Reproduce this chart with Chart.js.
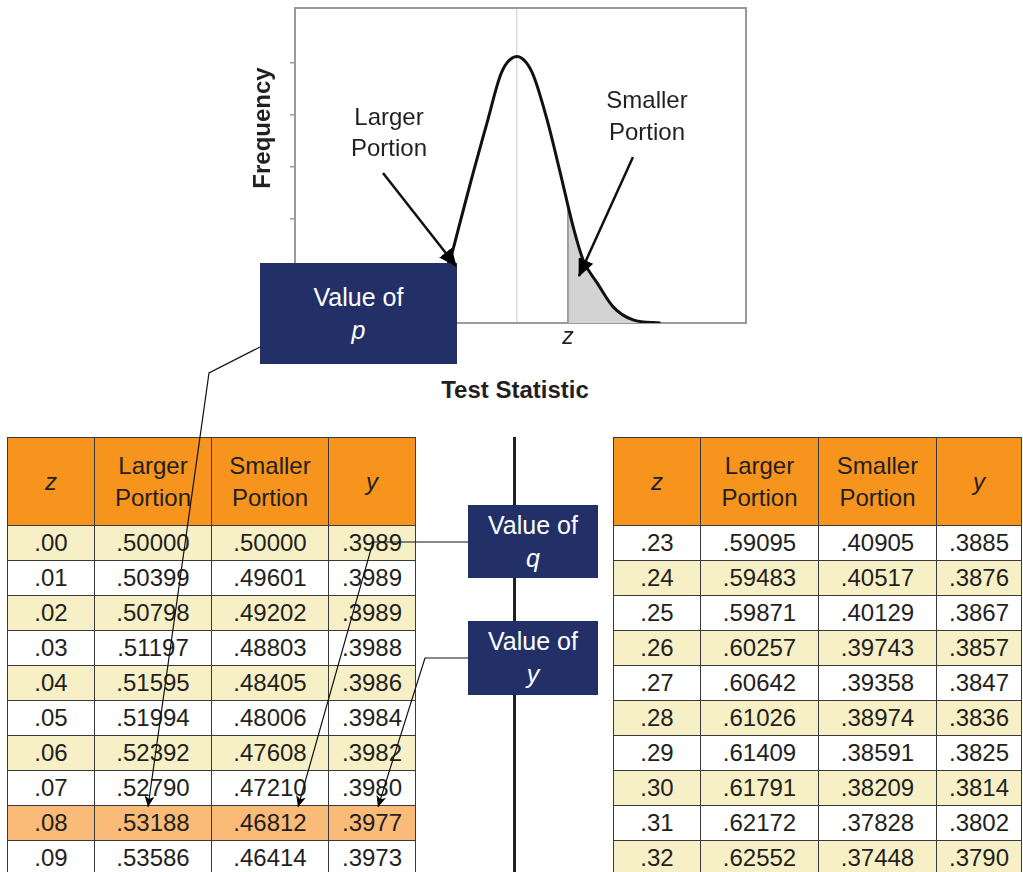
<!DOCTYPE html>
<html>
<head>
<meta charset="utf-8">
<script src="https://cdn.jsdelivr.net/npm/chart.js@4.4.1/dist/chart.umd.min.js"></script>
<style>
  body{margin:0;width:1023px;height:872px;position:relative;overflow:hidden;background:#fff;
       font-family:"Liberation Sans",Arial,Helvetica,sans-serif;color:#231f20}
  #chartWrap{position:absolute;left:240px;top:0;width:540px;height:360px}
  .lbl{position:absolute;font-size:24px;line-height:31px;text-align:center;white-space:nowrap}
  .bold{font-weight:bold}
  .box{position:absolute;background:#233068;color:#fff;font-size:25px;line-height:33px;text-align:center;
       display:flex;flex-direction:column;justify-content:center;z-index:4}
  .box i, th i{font-style:italic}
  table{position:absolute;border-collapse:collapse;table-layout:fixed;font-size:24px;top:437px}
  td,th{border:1.5px solid #3a3a3a;text-align:center;padding:0;overflow:hidden;white-space:nowrap}
  th{background:#f7941e;font-weight:normal;height:87px;line-height:32px}
  tr.r td{height:34px;line-height:34px}
  tr.yel td{background:#f7f0c6}
  tr.hi td{background:#fbbb78}
  #divider{position:absolute;left:513px;top:437px;width:3px;height:440px;background:#231f20}
  #ann{position:absolute;left:0;top:0;z-index:5;pointer-events:none}
</style>
</head>
<body>
<div id="chartWrap"><canvas id="normalChart" width="540" height="360"></canvas></div>

<div class="lbl bold" style="left:162px;top:113px;width:200px;height:30px;line-height:30px;transform:rotate(-90deg)">Frequency</div>
<div class="lbl" style="left:314px;top:101px;width:150px">Larger<br>Portion</div>
<div class="lbl" style="left:572px;top:84px;width:150px;line-height:32px">Smaller<br>Portion</div>
<div class="lbl bold" style="left:395px;top:374px;width:240px">Test Statistic</div>

<div class="box" style="left:260px;top:263px;width:197px;height:101px"><span>Value of</span><i>p</i></div>
<div class="box" style="left:468px;top:505px;width:130px;height:73px"><span>Value of</span><i>q</i></div>
<div class="box" style="left:468px;top:621px;width:130px;height:74px"><span>Value of</span><i>y</i></div>

<div id="divider"></div>
<table id="leftTable" style="left:7px;width:408px"></table>
<table id="rightTable" style="left:613px;width:408px"></table>

<svg id="ann" width="1023" height="872">
  <defs>
    <marker id="big" markerUnits="userSpaceOnUse" markerWidth="18" markerHeight="16" refX="17" refY="8" orient="auto">
      <path d="M0,0 L18,8 L0,16 z" fill="#000"/>
    </marker>
    <marker id="small" markerUnits="userSpaceOnUse" markerWidth="11" markerHeight="10" refX="11" refY="5" orient="auto">
      <path d="M0,0 L11,5 L0,10 L3,5 z" fill="#000"/>
    </marker>
  </defs>
  <line x1="383" y1="173" x2="456" y2="266" stroke="#111" stroke-width="2.5" marker-end="url(#big)"/>
  <line x1="633" y1="157" x2="579" y2="276" stroke="#111" stroke-width="2.5" marker-end="url(#big)"/>
  <polyline points="260,347 209,373 148,807" fill="none" stroke="#111" stroke-width="1.2" marker-end="url(#small)"/>
  <polyline points="468,542 373,542 298,807" fill="none" stroke="#111" stroke-width="1.2" marker-end="url(#small)"/>
  <polyline points="468,658 425,658 378,807" fill="none" stroke="#111" stroke-width="1.2" marker-end="url(#small)"/>
</svg>

<script>
  // curve (x: 1 unit = 40px from centre, y: tick units)
  const curveX = [-3.58, -2.9, -2.4, -2.0, -1.68, -1.43, -1.1, -0.75, -0.43, -0.25, 0, 0.23, 0.42, 0.75, 1.08, 1.4, 1.65, 2.0, 2.4, 2.9, 3.58];
  const curveY = [0, 0.06, 0.31, 0.77, 1.21, 1.92, 2.88, 3.85, 4.73, 5.0, 5.12, 5.0, 4.73, 3.9, 2.88, 1.85, 1.21, 0.77, 0.31, 0.06, 0];
  const zValue = 1.27;
  const shadeX = [1.27, 1.4, 1.65, 2.0, 2.4, 2.9, 3.58];
  const shadeY = [2.2, 1.85, 1.21, 0.77, 0.31, 0.06, 0];
  const yTicks = [1, 2, 3, 4, 5];

  const headers = ["<i>z</i>", "Larger<br>Portion", "Smaller<br>Portion", "<i>y</i>"];
  const leftZ = [".00", ".01", ".02", ".03", ".04", ".05", ".06", ".07", ".08", ".09"];
  const leftLarger = [".50000", ".50399", ".50798", ".51197", ".51595", ".51994", ".52392", ".52790", ".53188", ".53586"];
  const leftSmaller = [".50000", ".49601", ".49202", ".48803", ".48405", ".48006", ".47608", ".47210", ".46812", ".46414"];
  const leftY = [".3989", ".3989", ".3989", ".3988", ".3986", ".3984", ".3982", ".3980", ".3977", ".3973"];
  const rightZ = [".23", ".24", ".25", ".26", ".27", ".28", ".29", ".30", ".31", ".32"];
  const rightLarger = [".59095", ".59483", ".59871", ".60257", ".60642", ".61026", ".61409", ".61791", ".62172", ".62552"];
  const rightSmaller = [".40905", ".40517", ".40129", ".39743", ".39358", ".38974", ".38591", ".38209", ".37828", ".37448"];
  const rightY = [".3885", ".3876", ".3867", ".3857", ".3847", ".3836", ".3825", ".3814", ".3802", ".3790"];

  const FONT = '"Liberation Sans", Arial, Helvetica, sans-serif';

  function buildTable(id, widths, cols, rowClass) {
    const t = document.getElementById(id);
    let html = "<colgroup>" + widths.map(w => `<col style="width:${w}px">`).join("") + "</colgroup>";
    html += "<tr>" + headers.map(h => `<th>${h}</th>`).join("") + "</tr>";
    cols[0].forEach((_, i) => {
      html += `<tr class="r ${rowClass(i)}">` + cols.map(c => `<td>${c[i]}</td>`).join("") + "</tr>";
    });
    t.innerHTML = html;
  }

  buildTable("leftTable", [87, 117, 117, 87], [leftZ, leftLarger, leftSmaller, leftY],
    i => i === 8 ? "hi" : (i % 2 === 0 ? "yel" : ""));
  buildTable("rightTable", [87, 118, 118, 85], [rightZ, rightLarger, rightSmaller, rightY],
    i => i % 2 === 1 ? "yel" : "");

  const frame = {
    id: "frame",
    beforeDatasetsDraw(chart) {
      const a = chart.chartArea, c = chart.ctx;
      c.save();
      c.strokeStyle = "#9a9a9a";
      c.lineWidth = 2;
      c.strokeRect(a.left, a.top, a.right - a.left, a.bottom - a.top);
      c.restore();
    }
  };

  new Chart(document.getElementById("normalChart"), {
    type: "line",
    data: {
      datasets: [
        { label: "curve", data: curveX.map((x, i) => ({ x, y: curveY[i] })), borderColor: "#111", borderWidth: 3,
          pointRadius: 0, cubicInterpolationMode: "monotone", fill: false, order: 0 },
        { label: "z", data: [{ x: zValue, y: 0 }, { x: zValue, y: shadeY[0] }], borderColor: "#8a8a8a", borderWidth: 1.5,
          pointRadius: 0, fill: false, order: 1 },
        { label: "shade", data: shadeX.map((x, i) => ({ x, y: shadeY[i] })), backgroundColor: "#d3d3d3", borderWidth: 0,
          pointRadius: 0, cubicInterpolationMode: "monotone", fill: "origin", order: 2 }
      ]
    },
    options: {
      responsive: false,
      animation: false,
      layout: { padding: { left: 55, top: 8, right: 34, bottom: 7 } },
      plugins: { legend: { display: false }, tooltip: { enabled: false } },
      scales: {
        x: {
          type: "linear", min: -5.55, max: 5.72,
          afterBuildTicks: ax => { ax.ticks = [{ value: 0 }, { value: zValue }]; },
          afterFit: ax => { ax.height = 30; },
          ticks: { callback: v => v === zValue ? "z" : "", font: { family: FONT, size: 23, style: "italic" },
                   color: "#231f20", padding: 1, autoSkip: false, maxRotation: 0 },
          grid: { color: c => (c.tick && c.tick.value === 0) ? "#dcdcdc" : "rgba(0,0,0,0)", drawTicks: false, lineWidth: 1.5 },
          border: { color: "#9a9a9a", width: 2 }
        },
        y: {
          min: 0, max: 6.05,
          afterBuildTicks: ax => { ax.ticks = yTicks.map(v => ({ value: v })); },
          afterFit: ax => { ax.width = 0; },
          ticks: { display: false },
          grid: { drawOnChartArea: false, tickLength: 5, color: "#9a9a9a", lineWidth: 1.5 },
          border: { color: "#9a9a9a", width: 2 }
        }
      }
    },
    plugins: [frame]
  });
</script>
</body>
</html>
